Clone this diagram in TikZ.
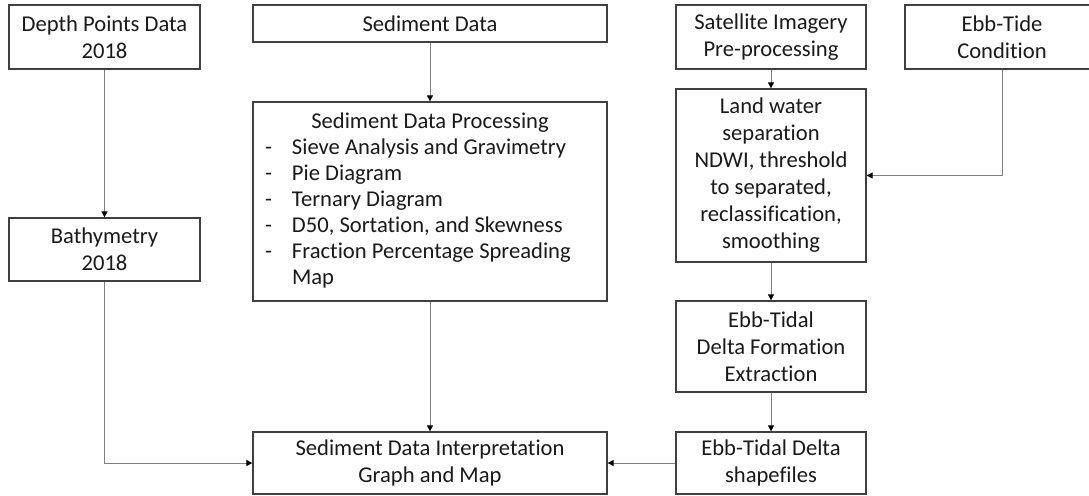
\documentclass[tikz,border=0pt]{standalone}
\usepackage{fontspec}
\setmainfont{Carlito}[Ligatures=NoCommon]
\usetikzlibrary{arrows.meta}
\definecolor{boxgray}{HTML}{404040}
\definecolor{linegray}{HTML}{808080}
\definecolor{txt}{HTML}{1A1A1A}
\begin{document}
\begin{tikzpicture}[x=1pt,y=-1pt,
  box/.style={draw=boxgray, line width=1.3pt, inner sep=0pt, align=center, text=txt,
    font=\fontsize{22.6}{27}\selectfont},
  conn/.style={draw=linegray, line width=1pt, -{Triangle[length=6pt,width=6pt,color=black]}}]
\useasboundingbox (0,0) rectangle (1089,495);
\fill[white] (0,0) rectangle (1089,495);
\clip (0,0) rectangle (1089,495);

\node[box, minimum width=191pt, minimum height=64pt] (depth) at (104.5,37) {Depth Points Data\\2018};
\node[box, minimum width=354pt, minimum height=37pt] (sed) at (430,23.5) {Sediment Data};
\node[box, minimum width=190pt, minimum height=64pt] (sat) at (771,37) {Satellite Imagery\\Pre-processing};
\node[box, minimum width=194pt, minimum height=64pt] (ebb) at (1002,37) {Ebb-Tide\\Condition};
\node[box, minimum width=191pt, minimum height=63pt] (bath) at (104.5,249.5) {Bathymetry\\2018};
\node[box, minimum width=354pt, minimum height=199pt,
  font=\fontsize{22.6}{25.9}\selectfont] (proc) at (430,201.5)
  {\begin{tabular}{@{}p{27pt}@{}p{303pt}@{}}
   \multicolumn{2}{c}{Sediment Data Processing}\\
   - & Sieve Analysis and Gravimetry\\
   - & Pie Diagram\\
   - & Ternary Diagram\\
   - & D50, Sortation, and Skewness\\
   - & Fraction Percentage Spreading\\
     & Map
   \end{tabular}};
\node[box, minimum width=190pt, minimum height=173pt] (land) at (771,175.5)
  {Land water\\separation\\NDWI, threshold\\to separated,\\reclassification,\\smoothing};
\node[box, minimum width=190pt, minimum height=91pt] (form) at (771,346.5)
  {Ebb-Tidal\\Delta Formation\\Extraction};
\node[box, minimum width=190pt, minimum height=62pt] (shape) at (771,463)
  {Ebb-Tidal Delta\\shapefiles};
\node[box, minimum width=354pt, minimum height=62pt] (interp) at (430,463)
  {Sediment Data Interpretation\\Graph and Map};

\draw[conn] (depth) -- (bath);
\draw[conn] (sed) -- (proc);
\draw[conn] (sat) -- (land);
\draw[conn] (ebb.south) |- (land.east);
\draw[conn] (land) -- (form);
\draw[conn] (form) -- (shape);
\draw[conn] (shape) -- (interp);
\draw[conn] (proc) -- (interp);
\draw[conn] (bath.south) |- (interp.west);
\end{tikzpicture}
\end{document}
